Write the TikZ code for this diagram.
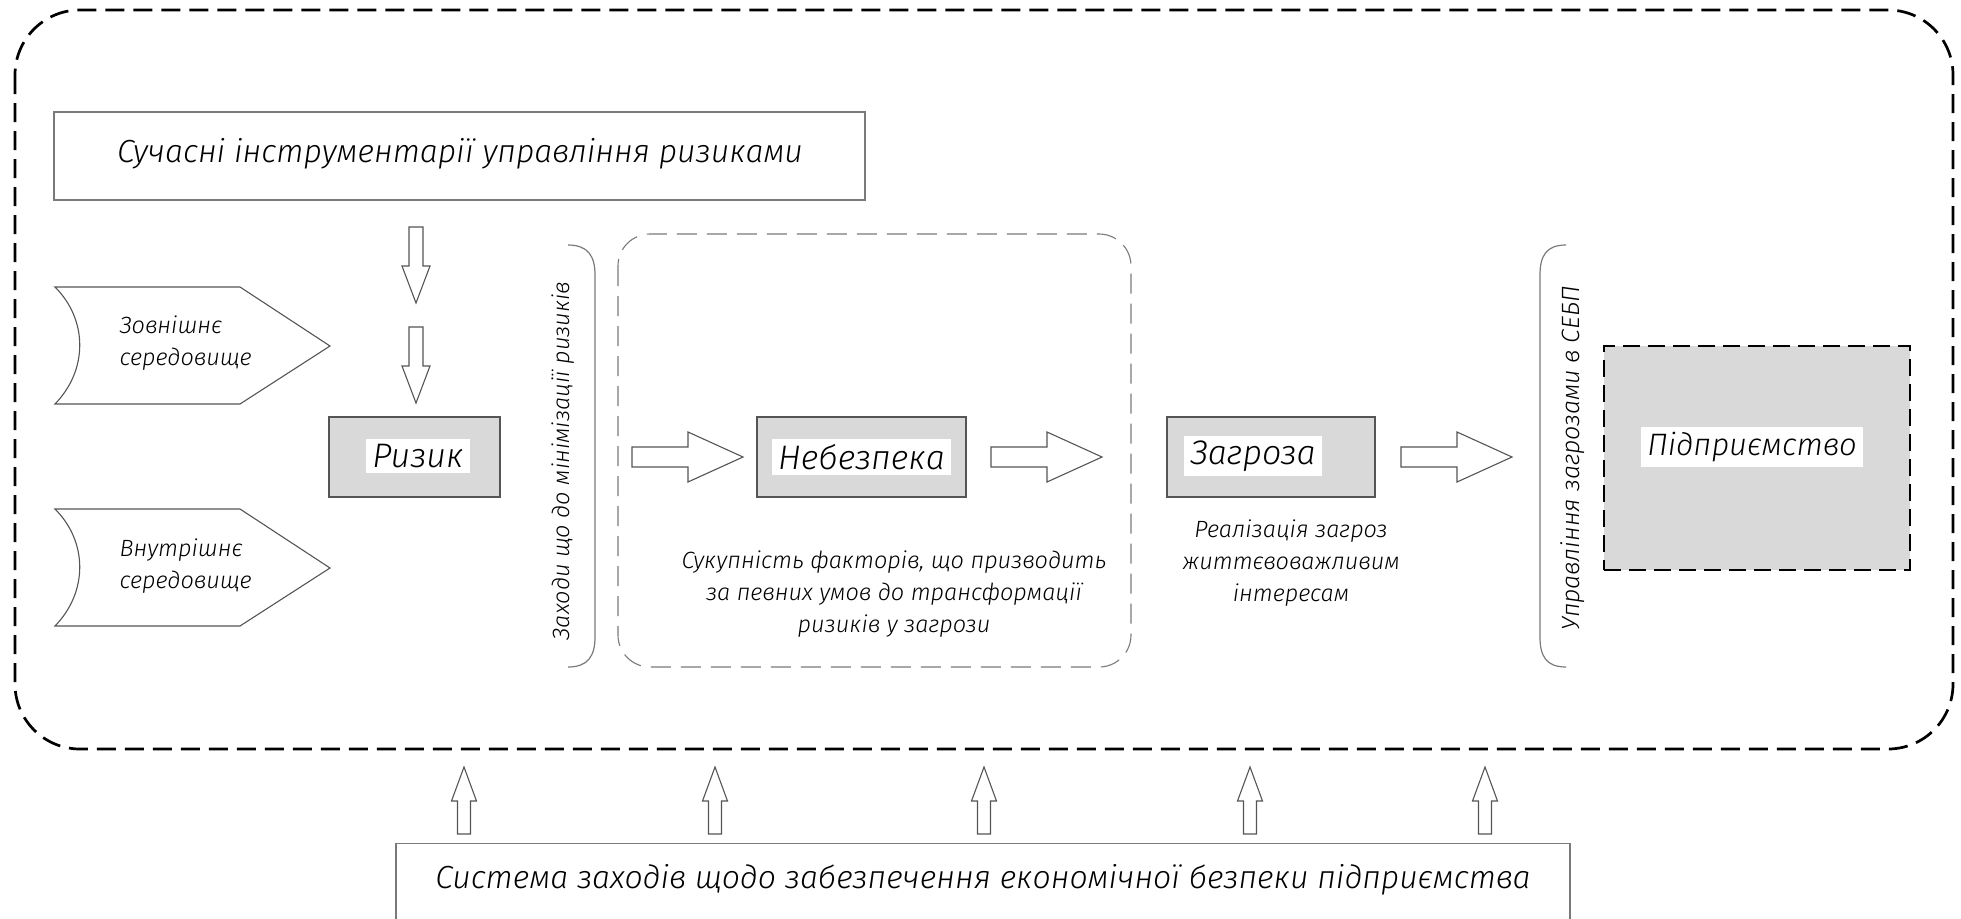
\documentclass[tikz,border=0pt]{standalone}
\usepackage{fontspec}
\IfFontExistsTF{Fira Sans Light Italic}
  {\setmainfont{Fira Sans Light Italic}}
  {\setmainfont{Fira Sans}[UprightFont=* Italic]}
\usetikzlibrary{calc}

\definecolor{boxgrey}{HTML}{D9D9D9}
\definecolor{edgegrey}{HTML}{555555}
\definecolor{softedge}{HTML}{7A7A7A}

\tikzset{
  frameline/.style={line width=2.7pt, dash pattern=on 19pt off 9pt, rounded corners=65pt},
  zoneline/.style={draw=softedge, line width=1.1pt, dash pattern=on 20pt off 10pt, rounded corners=32pt},
  plainbox/.style={draw=softedge, line width=1.1pt, inner sep=0pt},
  greybox/.style={draw=edgegrey, line width=1.2pt, fill=boxgrey, inner sep=0pt},
  firmbox/.style={draw=black, fill=boxgrey, line width=2.7pt, dash pattern=on 17pt off 8pt, inner sep=0pt},
  tag/.style={fill=white, inner xsep=6pt, inner ysep=5pt, font=\fontsize{34}{38}\selectfont},
  note/.style={align=center, font=\fontsize{23.5}{32}\selectfont},
  bigtext/.style={font=\fontsize{32}{36}\selectfont},
  chevron/.style={draw=edgegrey, line width=1.1pt, fill=white},
  brace/.style={draw=softedge, line width=1.2pt},
  fat/.style={draw=edgegrey, line width=1.1pt, fill=white},
  pics/rightarr/.style={code={
    \draw[fat] (0,-10) -- (56,-10) -- (56,-25) -- (111,0) -- (56,25) -- (56,10) -- (0,10) -- cycle;}},
  pics/downarr/.style 2 args={code={
    \draw[fat] (-7,0) -- (7,0) -- (7,#1) -- (14,#1) -- (0,#1+#2) -- (-14,#1) -- (-7,#1) -- cycle;}},
  pics/uparr/.style={code={
    \draw[fat] (-6.5,0) -- (6.5,0) -- (6.5,-33) -- (12.5,-33) -- (0,-67) -- (-12.5,-33) -- (-6.5,-33) -- cycle;}},
}

\begin{document}
\begin{tikzpicture}[x=1pt, y=-1pt]
\useasboundingbox (0,0) rectangle (1961,918);

% outer frame
\draw[frameline] (15,10) rectangle (1953,749);

\node[plainbox, minimum width=811, minimum height=88] (tools) at (459.5,156) {};
\node[bigtext] (toolstext) at (460,154) {Сучасні інструментарії управління ризиками};

% environments
\draw[chevron] (55,287) -- (240,287) -- (330,346) -- (240,404) -- (55,404) .. controls (88,370) and (88,320) .. (55,287) -- cycle;
\node[note, align=left, anchor=west] (outer) at (116,343) {Зовнішнє\\середовище};
\draw[chevron] (55,509) -- (240,509) -- (330,568) -- (240,626) -- (55,626) .. controls (88,592) and (88,542) .. (55,509) -- cycle;
\node[note, align=left, anchor=west] (inner) at (116,566) {Внутрішнє\\середовище};

\pic at (416,227) {downarr={39}{37}};
\pic at (416,327) {downarr={39}{37}};

\node[greybox, minimum width=171, minimum height=80] (risk) at (414.5,457) {};
\node[tag] (risktext) at (418,456) {Ризик};

\draw[brace] (568,245) .. controls (588,245) and (595,256) .. (595,275) -- (595,637) .. controls (595,656) and (588,667) .. (568,667);
\node[note, rotate=90] (minimise) at (563,461) {Заходи що до мінімізації ризиків};

\draw[zoneline] (618,234) rectangle (1131,667);
\pic at (632,457) {rightarr};
\node[greybox, minimum width=209, minimum height=80] (danger) at (861.5,457) {};
\node[tag] (dangertext) at (danger.center) {Небезпека};
\pic at (991,457) {rightarr};
\node[note] (factors) at (894,594) {Сукупність факторів, що призводить\\за певних умов до трансформації\\ризиків у загрози};

\node[greybox, minimum width=208, minimum height=80] (threat) at (1271,457) {};
\node[tag] (threattext) at (1253,456) {Загроза};
\node[note] (realise) at (1291,563) {Реалізація загроз\\життєвоважливим\\інтересам};
\pic at (1401,457) {rightarr};

\draw[brace] (1566,245) .. controls (1546,245) and (1540,256) .. (1540,275) -- (1540,637) .. controls (1540,656) and (1546,667) .. (1566,667);
\node[note, rotate=90, font=\fontsize{25}{32}\selectfont] (manage) at (1573,458) {Управління загрозами в СЕБП};

\node[firmbox, minimum width=306, minimum height=224] (firm) at (1757,458) {};
\node[tag, font=\fontsize{31}{36}\selectfont] (firmtext) at (1752,447) {Підприємство};

% system of measures
\node[plainbox, minimum width=1174, minimum height=110, anchor=north] (system) at (983,843) {};
\node[bigtext] (systemtext) at (983,880) {Система заходів щодо забезпечення економічної безпеки підприємства};
\foreach \x in {464,715,984,1250,1485}
  \pic at (\x,834) {uparr};
\end{tikzpicture}
\end{document}
